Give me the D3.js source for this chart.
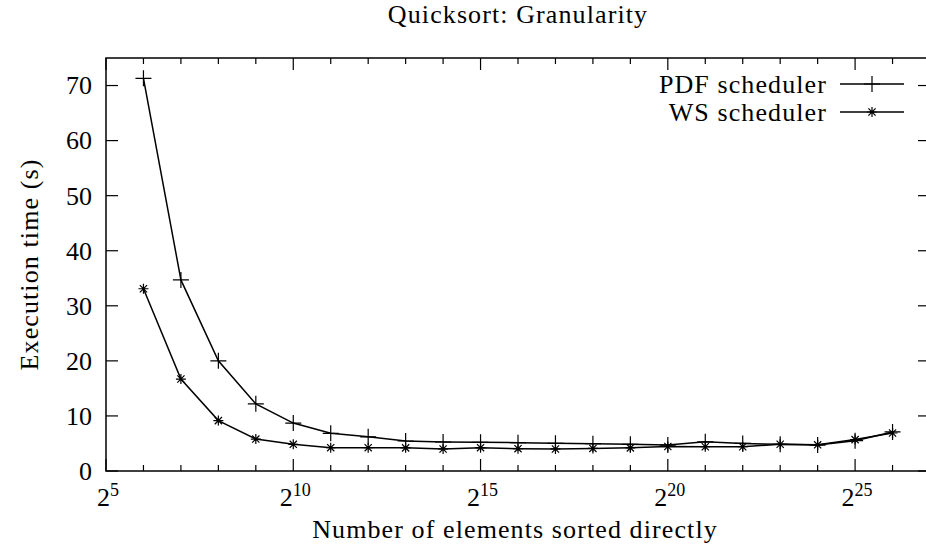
<!DOCTYPE html>
<html>
<head>
<meta charset="utf-8">
<script src="https://cdnjs.cloudflare.com/ajax/libs/d3/7.8.5/d3.min.js"></script>
<style>
  html, body { margin: 0; padding: 0; background: #fff; }
  svg text { font-family: "Liberation Serif", "Times New Roman", "DejaVu Serif", serif; }
</style>
</head>
<body>
<svg id="chart" width="926" height="554"></svg>
<script>
// data (x = log2 of elements sorted directly)
const exponents = [6, 7, 8, 9, 10, 11, 12, 13, 14, 15, 16, 17, 18, 19, 20, 21, 22, 23, 24, 25, 26];
const pdfTimes = [71.3, 34.7, 20.0, 12.2, 8.7, 6.85, 6.2, 5.45, 5.27, 5.2, 5.15, 5.03, 4.96, 4.85, 4.7, 5.3, 5.0, 4.85, 4.7, 5.5, 7.1];
const wsTimes = [33.1, 16.7, 9.15, 5.8, 4.84, 4.24, 4.24, 4.2, 4.0, 4.24, 4.05, 4.0, 4.1, 4.2, 4.45, 4.4, 4.4, 4.85, 4.75, 5.7, 6.9];
const xTickExps = [5, 10, 15, 20, 25];
const xMinorExps = d3.range(5, 28);
const yTicks = [0, 10, 20, 30, 40, 50, 60, 70];
const seriesNames = ['PDF scheduler', 'WS scheduler'];

const svg = d3.select('#chart');
const plotLeft = 106, plotRight = 930, plotTop = 58, plotBottom = 471;

const x = d3.scaleLog().base(2).domain([2 ** 5, 2 ** 27]).range([plotLeft, plotRight]);
const y = d3.scaleLinear().domain([0, 75]).range([plotBottom, plotTop]);

const fontSize = 26;
const spacing = 1.1; // CM is wider than Times, stretch a bit
const serif = '"Liberation Serif", "Times New Roman", serif';

// title
svg.append('text')
    .attr('x', (plotLeft + plotRight) / 2)
    .attr('y', 23)
    .attr('text-anchor', 'middle')
    .attr('font-family', serif)
    .attr('font-size', fontSize)
    .attr('letter-spacing', spacing)
    .text('Quicksort: Granularity');

// ticks (gnuplot style: inward, mirrored)
const ticks = svg.append('g').attr('stroke', '#000').attr('stroke-width', 1.2);
xMinorExps.forEach(e => {
    const len = xTickExps.includes(e) ? 12 : 6;
    const px = x(2 ** e);
    ticks.append('line').attr('x1', px).attr('x2', px).attr('y1', plotBottom).attr('y2', plotBottom - len);
    ticks.append('line').attr('x1', px).attr('x2', px).attr('y1', plotTop).attr('y2', plotTop + len);
});
yTicks.forEach(v => {
    const py = y(v);
    ticks.append('line').attr('x1', plotLeft).attr('x2', plotLeft + 12).attr('y1', py).attr('y2', py);
    ticks.append('line').attr('x1', plotRight).attr('x2', plotRight - 12).attr('y1', py).attr('y2', py);
});

// frame
svg.append('rect')
    .attr('x', plotLeft).attr('y', plotTop)
    .attr('width', plotRight - plotLeft).attr('height', plotBottom - plotTop)
    .attr('fill', 'none').attr('stroke', '#000').attr('stroke-width', 1.5);

// y tick labels
svg.append('g').selectAll('text')
    .data(yTicks)
    .join('text')
    .attr('x', plotLeft - 14)
    .attr('y', d => y(d))
    .attr('dy', '0.34em')
    .attr('text-anchor', 'end')
    .attr('font-family', serif)
    .attr('font-size', fontSize)
    .text(d => d);

// x tick labels 2^n
const xl = svg.append('g').selectAll('text')
    .data(xTickExps)
    .join('text')
    .attr('x', d => x(2 ** d) + 2)
    .attr('y', 506)
    .attr('text-anchor', 'middle')
    .attr('font-family', serif)
    .attr('font-size', fontSize);
xl.append('tspan').text('2');
xl.append('tspan').attr('font-size', 18).attr('dy', -10).text(d => d);

// axis titles
svg.append('text')
    .attr('x', (plotLeft + plotRight) / 2 - 3)
    .attr('y', 538)
    .attr('text-anchor', 'middle')
    .attr('font-family', serif)
    .attr('font-size', fontSize)
    .attr('letter-spacing', spacing)
    .text('Number of elements sorted directly');

svg.append('text')
    .attr('transform', 'translate(38,' + ((plotTop + plotBottom) / 2) + ') rotate(-90)')
    .attr('text-anchor', 'middle')
    .attr('font-family', serif)
    .attr('font-size', fontSize)
    .attr('letter-spacing', spacing)
    .text('Execution time (s)');

// markers
const plusPath = 'M-8,0H8M0,-8V8';
const starPath = 'M-5,0H5M0,-5V5M-3.6,-3.6L3.6,3.6M-3.6,3.6L3.6,-3.6';

const series = [
    { name: seriesNames[0], values: pdfTimes, marker: plusPath },
    { name: seriesNames[1], values: wsTimes, marker: starPath }
];

const line = d3.line()
    .x(d => x(2 ** d[0]))
    .y(d => y(d[1]));

series.forEach((s, i) => {
    const pts = exponents.map((e, j) => [e, s.values[j]]);
    svg.append('path')
        .datum(pts)
        .attr('fill', 'none')
        .attr('stroke', '#000')
        .attr('stroke-width', 1.5)
        .attr('d', line);
    svg.append('g').selectAll('path')
        .data(pts)
        .join('path')
        .attr('transform', d => 'translate(' + x(2 ** d[0]) + ',' + y(d[1]) + ')')
        .attr('d', s.marker)
        .attr('fill', 'none')
        .attr('stroke', '#000')
        .attr('stroke-width', 1.2);

    // legend
    const ly = 84 + i * 28;
    svg.append('text')
        .attr('x', 827)
        .attr('y', ly)
        .attr('dy', '0.33em')
        .attr('text-anchor', 'end')
        .attr('font-family', serif)
        .attr('font-size', fontSize)
        .attr('letter-spacing', spacing)
        .text(s.name);
    svg.append('line')
        .attr('x1', 840).attr('x2', 904)
        .attr('y1', ly).attr('y2', ly)
        .attr('stroke', '#000').attr('stroke-width', 1.5);
    svg.append('path')
        .attr('transform', 'translate(872,' + ly + ')')
        .attr('d', s.marker)
        .attr('fill', 'none')
        .attr('stroke', '#000')
        .attr('stroke-width', 1.2);
});
</script>
</body>
</html>
